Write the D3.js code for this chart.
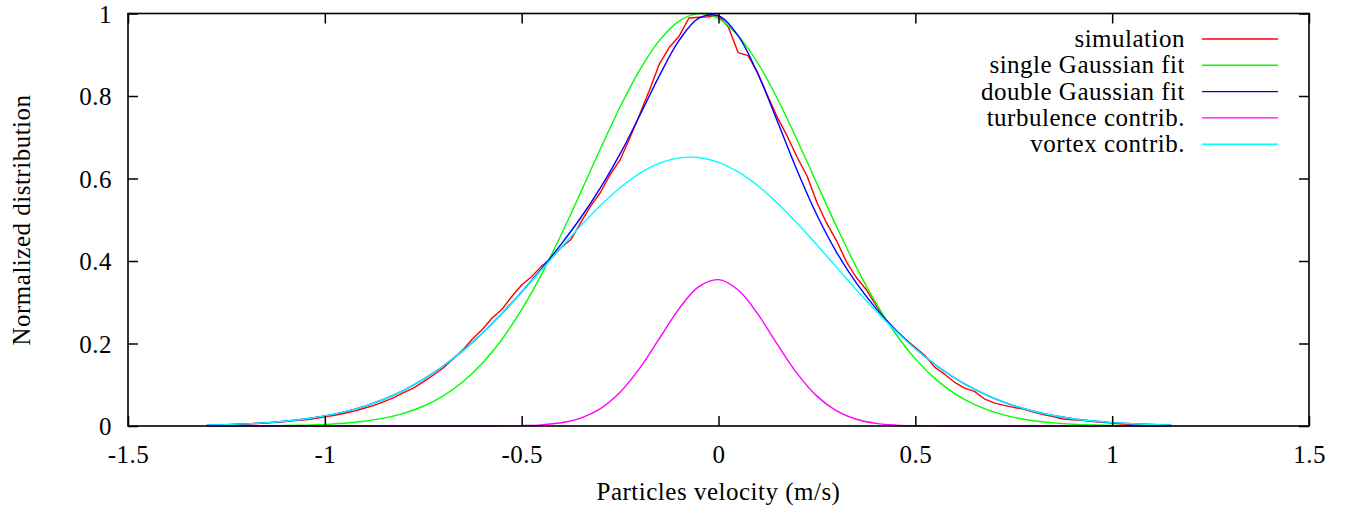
<!DOCTYPE html>
<html>
<head>
<meta charset="utf-8">
<script src="https://cdn.jsdelivr.net/npm/d3@7"></script>
<style>
  html, body { margin: 0; padding: 0; background: #fff; }
  svg { display: block; }
  text { font-family: "Liberation Serif", "DejaVu Serif", serif; font-size: 25px; letter-spacing: 0.5px; fill: #000; }
</style>
</head>
<body>
<svg id="chart" width="1347" height="508"></svg>
<script>
// ---------- data ----------
const xTickValues = [-1.5, -1, -0.5, 0, 0.5, 1, 1.5];
const xTickLabels = ["-1.5", "-1", "-0.5", "0", "0.5", "1", "1.5"];
const yTickValues = [0, 0.2, 0.4, 0.6, 0.8, 1];
const yTickLabels = ["0", "0.2", "0.4", "0.6", "0.8", "1"];

const seriesNames = ["simulation", "single Gaussian fit", "double Gaussian fit", "turbulence contrib.", "vortex contrib."];
const seriesColors = ["#ff0000", "#00ff00", "#0000ff", "#ff00ff", "#00ffff"];

// simulation histogram
const simX = [-1.275,-1.250,-1.225,-1.200,-1.175,-1.150,-1.125,-1.100,-1.075,-1.050,-1.025,-1.000,
  -0.975,-0.950,-0.925,-0.900,-0.875,-0.850,-0.825,-0.800,-0.775,-0.750,-0.725,-0.700,
  -0.675,-0.650,-0.625,-0.600,-0.575,-0.550,-0.525,-0.500,-0.475,-0.450,-0.425,-0.400,
  -0.375,-0.350,-0.325,-0.300,-0.275,-0.250,-0.225,-0.200,-0.175,-0.150,-0.125,-0.100,
  -0.075,-0.050,-0.025,0.000,0.025,0.050,0.075,0.100,0.125,0.150,0.175,0.200,
  0.225,0.250,0.275,0.300,0.325,0.350,0.375,0.400,0.425,0.450,0.475,0.500,
  0.525,0.550,0.575,0.600,0.625,0.650,0.675,0.700,0.725,0.750,0.775,0.800,
  0.825,0.850,0.875,0.900,0.925,0.950,0.975,1.000,1.025,1.050,1.075,1.100];
const simY = [0.002,0.003,0.004,0.005,0.006,0.007,0.009,0.011,0.013,0.015,0.018,0.022,
  0.026,0.031,0.036,0.043,0.050,0.059,0.069,0.081,0.092,0.107,0.123,0.140,
  0.162,0.184,0.211,0.234,0.262,0.283,0.314,0.342,0.362,0.387,0.406,0.432,
  0.452,0.493,0.533,0.566,0.610,0.645,0.699,0.756,0.815,0.878,0.918,0.945,
  0.989,0.991,0.992,0.995,0.967,0.905,0.898,0.856,0.800,0.747,0.702,0.651,
  0.606,0.542,0.491,0.449,0.398,0.360,0.331,0.293,0.258,0.232,0.210,0.190,
  0.170,0.142,0.125,0.106,0.092,0.084,0.066,0.056,0.050,0.045,0.041,0.034,
  0.028,0.023,0.017,0.015,0.014,0.011,0.009,0.007,0.005,0.004,0.003,0.002];

// fitted curves, sampled
const fitX = [-1.30,-1.25,-1.20,-1.15,-1.10,-1.05,-1.00,-0.95,-0.90,-0.85,-0.80,-0.75,-0.70,-0.65,-0.60,
  -0.55,-0.50,-0.45,-0.40,-0.35,-0.30,-0.25,-0.20,-0.15,-0.10,-0.05,0.00,0.05,0.10,0.15,0.20,0.25,
  0.30,0.35,0.40,0.45,0.50,0.55,0.60,0.65,0.70,0.75,0.80,0.85,0.90,0.95,1.00,1.05,1.10,1.15];
const singleFit = [0.0001,0.0001,0.0003,0.0006,0.0011,0.0021,0.0038,0.0067,0.0115,0.0190,0.0307,0.0479,0.0726,0.1068,0.1522,
  0.2104,0.2821,0.3669,0.4629,0.5663,0.6720,0.7734,0.8634,0.9348,0.9817,0.9998,0.9877,0.9463,0.8794,0.7926,0.6929,0.5875,
  0.4831,0.3853,0.2981,0.2236,0.1627,0.1149,0.0786,0.0522,0.0336,0.0210,0.0127,0.0075,0.0043,0.0024,0.0013,0.0006,0.0003,0.0001];
const doubleFit = [0.0021,0.0033,0.0051,0.0077,0.0116,0.0170,0.0244,0.0344,0.0477,0.0648,0.0863,0.1129,0.1448,0.1822,0.2251,
  0.2729,0.3250,0.3808,0.4403,0.5048,0.5770,0.6595,0.7526,0.8494,0.9347,0.9886,0.9940,0.9457,0.8535,0.7375,0.6187,0.5114,
  0.4211,0.3468,0.2851,0.2327,0.1878,0.1492,0.1164,0.0892,0.0671,0.0495,0.0358,0.0254,0.0177,0.0121,0.0081,0.0054,0.0035,0.0022];
const turbulence = [0,0,0,0,0,0,0,0,0,0,0,0,0,0,0,
  0.0002,0.0009,0.0028,0.0078,0.0193,0.0423,0.0818,0.1401,0.2123,0.2847,0.3378,0.3548,0.3297,0.2711,0.1973,0.1271,0.0724,
  0.0365,0.0163,0.0064,0.0022,0.0007,0.0002,0,0,0,0,0,0,0,0,0,0,0,0];
const vortex = [0.0021,0.0033,0.0051,0.0077,0.0116,0.0170,0.0244,0.0344,0.0477,0.0648,0.0863,0.1129,0.1448,0.1822,0.2251,
  0.2727,0.3241,0.3780,0.4325,0.4855,0.5347,0.5777,0.6125,0.6371,0.6500,0.6508,0.6392,0.6160,0.5824,0.5402,0.4916,0.4390,
  0.3846,0.3305,0.2787,0.2305,0.1871,0.1490,0.1164,0.0892,0.0671,0.0495,0.0358,0.0254,0.0177,0.0121,0.0081,0.0054,0.0035,0.0022];

const xTitle = "Particles velocity (m/s)";
const yTitle = "Normalized distribution";

(function () {
// ---------- layout ----------
const svg = d3.select("#chart");
const L = 128, R = 1309, T = 13.5, B = 426;
const x = d3.scaleLinear().domain([-1.5, 1.5]).range([L, R]);
const y = d3.scaleLinear().domain([0, 1]).range([B, T]);
const TICK = 10;
const FONT = "25px";

const series = [
  { pts: simX.map((v, i) => [v, simY[i]]), curve: d3.curveLinear },
  { pts: fitX.map((v, i) => [v, singleFit[i]]), curve: d3.curveCatmullRom.alpha(0.5) },
  { pts: fitX.map((v, i) => [v, doubleFit[i]]), curve: d3.curveCatmullRom.alpha(0.5) },
  { pts: fitX.map((v, i) => [v, turbulence[i]]), curve: d3.curveCatmullRom.alpha(0.5) },
  { pts: fitX.map((v, i) => [v, vortex[i]]), curve: d3.curveCatmullRom.alpha(0.5) }
];

const plot = svg.append("g");
series.forEach((s, i) => {
  const line = d3.line().x(d => x(d[0])).y(d => y(d[1])).curve(s.curve);
  plot.append("path")
    .attr("d", line(s.pts))
    .attr("fill", "none")
    .attr("stroke", seriesColors[i])
    .attr("stroke-width", 1.4)
    .attr("stroke-linejoin", "round");
});

// axes
const ax = svg.append("g").attr("class", "axes");
const gBottom = ax.append("g").attr("transform", `translate(0,${B})`)
  .call(d3.axisBottom(x).tickValues(xTickValues).tickSize(-TICK)
    .tickFormat((d, i) => xTickLabels[i]));
gBottom.selectAll("text").attr("y", 37).attr("dy", 0).attr("text-anchor", "middle");
ax.append("g").attr("transform", `translate(0,${T})`)
  .call(d3.axisTop(x).tickValues(xTickValues).tickSize(-TICK).tickFormat(""));
const gLeft = ax.append("g").attr("transform", `translate(${L},0)`)
  .call(d3.axisLeft(y).tickValues(yTickValues).tickSize(-TICK).tickPadding(16)
    .tickFormat((d, i) => yTickLabels[i]));
gLeft.selectAll("text").attr("dy", "0.34em");
ax.append("g").attr("transform", `translate(${R},0)`)
  .call(d3.axisRight(y).tickValues(yTickValues).tickSize(-TICK).tickFormat(""));

ax.selectAll(".domain").remove();
ax.selectAll(".tick line").attr("stroke", "#000").attr("stroke-width", 1.5);
ax.selectAll("text")
  .style("font-family", '"Liberation Serif", serif')
  .style("font-size", FONT)
  .style("letter-spacing", "0.5px")
  .attr("fill", "#000");

svg.append("rect")
  .attr("x", L).attr("y", T).attr("width", R - L).attr("height", B - T)
  .attr("fill", "none").attr("stroke", "#000").attr("stroke-width", 1.6);

// titles
svg.append("text").attr("x", (L + R) / 2).attr("y", 500).attr("text-anchor", "middle").text(xTitle);
svg.append("text").attr("transform", "translate(30,220) rotate(-90)").attr("text-anchor", "middle").text(yTitle);

// legend
const legY0 = 39, legDY = 26.3;
const leg = svg.append("g");
seriesNames.forEach((name, i) => {
  const yy = legY0 + i * legDY;
  leg.append("text").attr("x", 1185).attr("y", yy + 8).attr("text-anchor", "end").text(name);
  leg.append("line").attr("x1", 1202).attr("x2", 1278).attr("y1", yy).attr("y2", yy)
    .attr("stroke", seriesColors[i]).attr("stroke-width", 1.4);
});
})();
</script>
</body>
</html>
